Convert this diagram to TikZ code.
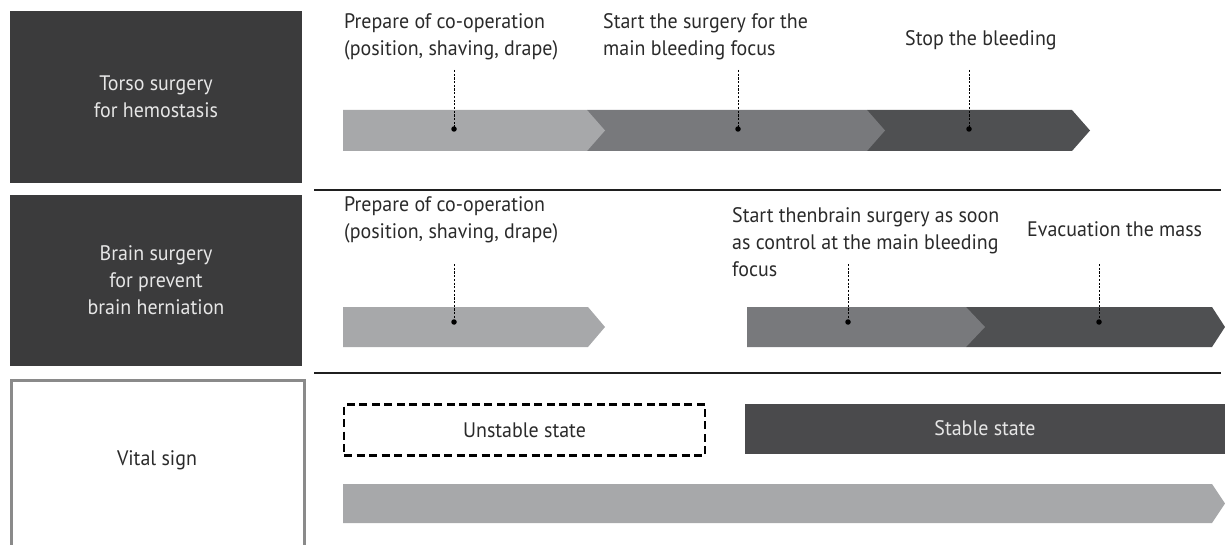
\documentclass[tikz,border=0pt]{standalone}
\usepackage{fontspec}
\setmainfont{PT Sans}[FakeStretch=0.95]
\definecolor{boxc}{HTML}{3B3B3C}
\definecolor{lightc}{HTML}{A7A8AA}
\definecolor{midc}{HTML}{78797C}
\definecolor{darkc}{HTML}{4F5052}
\definecolor{stablec}{HTML}{4A4A4C}
\definecolor{vitalc}{HTML}{8A8A8A}
\definecolor{labelc}{HTML}{2A2A2A}
\definecolor{boxtext}{HTML}{E6E6E6}
\newcommand\chevseg[6]{\fill[#6] (#1,#4) -- (#2,#4) -- (#3,{(#4+#5)/2}) -- (#2,#5) -- (#1,#5) -- cycle;}
\begin{document}
\begin{tikzpicture}[x=1pt,y=-1pt,
  lbl/.style={font=\fontsize{21}{27}\selectfont, text=labelc, align=left, inner sep=0pt, anchor=north west},
  sidebox/.style={fill=boxc, text=boxtext, font=\fontsize{21}{27}\selectfont, align=center, inner sep=0pt},
  dotmark/.style={circle, fill=black, inner sep=0pt, minimum size=5.5pt},
  leader/.style={black, dashed, dash pattern=on 2.2pt off 1.5pt, line width=0.9pt},
  rule/.style={line width=2pt, draw=black!88}]
\useasboundingbox (0,0) rectangle (1225,545);
% side boxes
\node (torso) [sidebox, minimum width=292pt, minimum height=171.5pt] at (156,97.25) {Torso surgery\\for hemostasis};
\node (brain) [sidebox, minimum width=292pt, minimum height=171pt] at (156,280.5) {Brain surgery\\for prevent\\brain herniation};
\draw[vitalc, line width=3pt] (11.5,545) -- (11.5,380) -- (304,380) -- (304,545);
\node (vital) [font=\fontsize{21}{27}\selectfont, text=labelc] at (157,460) {Vital sign};
% rules
\coordinate (r1a) at (314,190.5); \coordinate (r1b) at (1221,190.5);
\coordinate (r2a) at (314,372.5); \coordinate (r2b) at (1221,372.5);
\draw[rule] (r1a) -- (r1b);
\draw[rule] (r2a) -- (r2b);
% row 1 arrows
\chevseg{867}{1072}{1090}{110}{151}{darkc}
\chevseg{587}{867}{885}{110}{151}{midc}
\chevseg{343}{587}{605}{110}{151}{lightc}
% row 2 arrows
\chevseg{966}{1212}{1225}{307}{347}{darkc}
\chevseg{747}{966}{985}{307}{347}{midc}
\chevseg{343}{588}{605}{307}{347}{lightc}
% row 3
\chevseg{343}{1212}{1225}{484}{523}{lightc}
\node (unstable) [draw=black, line width=2.8pt, dash pattern=on 8pt off 4.5pt, minimum width=361pt, minimum height=51pt, inner sep=0pt, font=\fontsize{21}{27}\selectfont, text=labelc] at (524.5,430) {Unstable state};
\node (stable) [fill=stablec, minimum width=480pt, minimum height=50pt, inner sep=0pt, font=\fontsize{21}{27}\selectfont, text=boxtext] at (985,428.5) {Stable state};
% labels row 1
\node (l1) [lbl] at (344,13) {Prepare of co-operation\\(position, shaving, drape)};
\node (l2) [lbl] at (603,13) {Start the surgery for the\\main bleeding focus};
\node (l3) [lbl] at (905,30) {Stop the bleeding};
% labels row 2
\node (l4) [lbl] at (344,196) {Prepare of co-operation\\(position, shaving, drape)};
\node (l5) [lbl] at (732,207) {Start thenbrain surgery as soon\\as control at the main bleeding\\focus};
\node (l6) [lbl] at (1027,221) {Evacuation the mass};
% dots and leaders
\node (d1) [dotmark] at (454,129) {};
\node (d2) [dotmark] at (738,129) {};
\node (d3) [dotmark] at (969,129) {};
\node (d4) [dotmark] at (454,322) {};
\node (d5) [dotmark] at (848,322) {};
\node (d6) [dotmark] at (1099,322) {};
\coordinate (t1) at (454,70);
\coordinate (t2) at (738,70);
\coordinate (t3) at (969,70);
\coordinate (t4) at (454,264);
\coordinate (t5) at (848,264);
\coordinate (t6) at (1099,264);
\foreach \i in {1,...,6} {\draw[leader] (t\i) -- (d\i.center);}
\end{tikzpicture}
\end{document}
